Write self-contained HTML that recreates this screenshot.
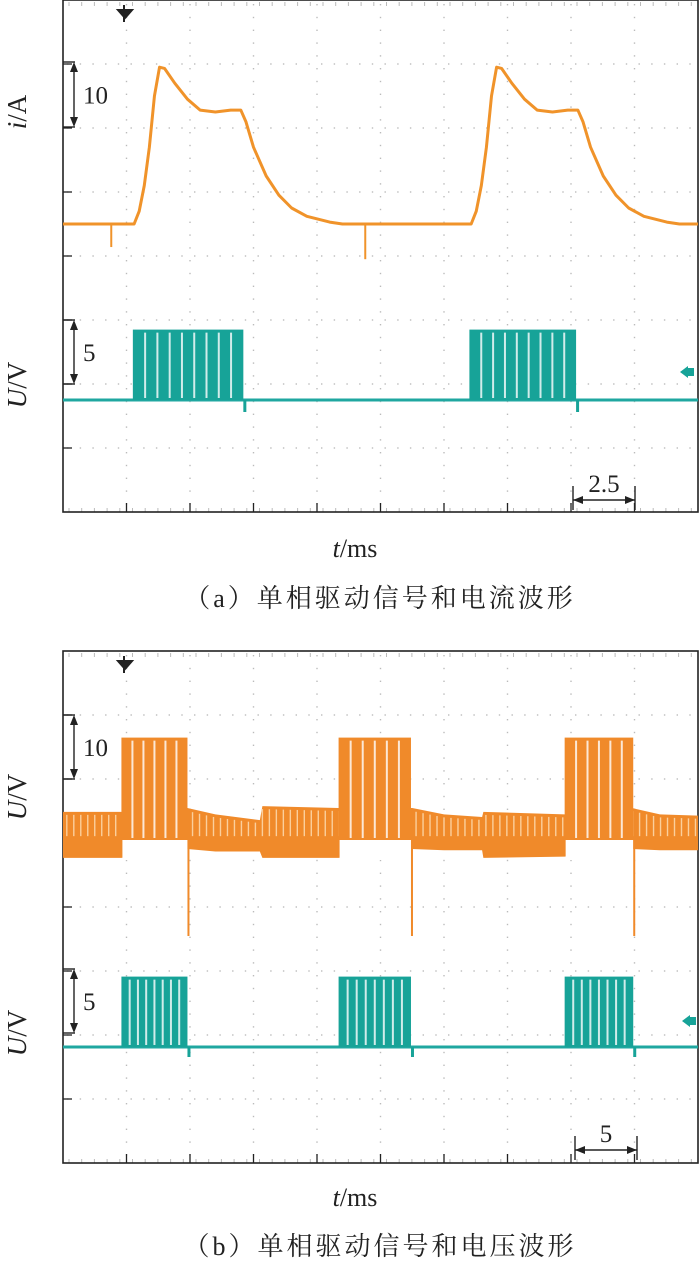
<!DOCTYPE html>
<html><head><meta charset="utf-8"><style>
body{margin:0;background:#fff}
svg{display:block}
text{font-family:"Liberation Serif","Noto Serif CJK SC",serif;fill:#222}
</style></head><body>
<svg id="c" width="700" height="1269" viewBox="0 0 700 1269" xmlns="http://www.w3.org/2000/svg"></svg>
<script>
// ---- data (a) current, ms / A ----
const curT=[0,2.8,3.0,3.2,3.4,3.6,3.8,4.0,4.4,4.9,5.4,6.0,6.6,7.0,7.2,7.5,8.0,8.5,9.0,9.6,10.5,11];
const curI=[0,0,2,6,12,20,24.5,24.3,22,19.5,17.8,17.5,17.8,17.8,16,12,7.5,4.5,2.5,1.2,0.3,0];
const curPeriod=13.27;
const curSpikeT=[1.9,11.9];
const curSpikeI=[-3.6,-5.5];
// (a) drive pulses, ms
const aPulseStart=[2.75,16.0];
const aPulseEnd=[7.1,20.2];
const aPulseV=5.5;
// (b) voltage pulses, ms (5 ms/div)
const bPulseStart=[4.6,21.7,39.5];
const bPulseEnd=[9.8,27.4,44.9];
const bOrangeHigh=16;
// (b) noise band envelope (ms, V)
const bandT=  [0,  4.6, 9.8, 12, 15.5,15.7,21.7,27.5,30, 33, 33.1,39.5,44.8,47, 50];
const bandTop=[4.4,4.4, 5.0, 4.0,3.1, 5.3, 5.0, 5.0, 4.0,3.6,4.4, 4.0, 5.0, 4.0,3.8];
const bandBot=[-2.8,-2.8,-1.4,-1.8,-1.8,-2.8,-2.8,-1.4,-1.6,-1.6,-2.8,-2.6,-1.4,-1.6,-1.6];
const bSpikeV=[-15,-15,-15];
const bCyanV=5.5;

const S=document.getElementById('c');
const NS='http://www.w3.org/2000/svg';
function el(t,a,p){const e=document.createElementNS(NS,t);for(const k in a)e.setAttribute(k,a[k]);(p||S).appendChild(e);return e;}
const X0=63,X1=698,DIV=63.5;

function frame(top,name){
  const g=el('g',{});
  
  
  for(let i=1;i<10;i++){for(let y=top+4;y<top+510;y+=12.8)el('rect',{x:X0+i*DIV-0.7,y:y,width:1.4,height:1.4,fill:'#bbb'},g);}
  for(let j=1;j<8;j++){for(let x=X0+4;x<X1;x+=12.7)el('rect',{x:x,y:top+j*64-0.7,width:1.4,height:1.4,fill:'#bbb'},g);}
  for(let x=X0+6;x<X1;x+=12.7){el('line',{x1:x,y1:top+2,x2:x,y2:top+6,stroke:'#bbb'},g);el('line',{x1:x,y1:top+508,x2:x,y2:top+512,stroke:'#bbb'},g);}
  for(let j=1;j<8;j++)el('line',{x1:X0,y1:top+j*64,x2:X0+9,y2:top+j*64,stroke:'#222','stroke-width':1.3},g);
  for(let i=1;i<10;i++)el('line',{x1:X0+i*DIV,y1:top+512,x2:X0+i*DIV,y2:top+503,stroke:'#222','stroke-width':1.3},g);
  el('rect',{x:X0,y:top,width:X1-X0,height:512,fill:'none',stroke:'#222','stroke-width':1.6},g);
  el('path',{d:`M${X0+55},${top+10} h14 l-7,8z M${X0+61},${top+5} v17`,fill:'#222',stroke:'#222','stroke-width':2},g);
  return g;
}
function scaleArrow(y1,y2,label,name){
  const g=el('g',{});
  el('line',{x1:X0,y1:y1,x2:X0+12,y2:y1,stroke:'#222','stroke-width':1.4},g);
  el('line',{x1:X0,y1:y2,x2:X0+12,y2:y2,stroke:'#222','stroke-width':1.4},g);
  el('line',{x1:X0+11,y1:y1+8,x2:X0+11,y2:y2-8,stroke:'#222','stroke-width':1.4},g);
  el('path',{d:`M${X0+11},${y1} l-4,10 h8z M${X0+11},${y2} l-4,-10 h8z`,fill:'#222'},g);
  const t=el('text',{x:X0+20,y:(y1+y2)/2+9,'font-size':25},g);t.textContent=label;
}
function timeArrow(x1,x2,y,label,name){
  const g=el('g',{});
  el('line',{x1:x1,y1:y,x2:x2,y2:y,stroke:'#222','stroke-width':1.4},g);
  el('line',{x1:x1,y1:y-14,x2:x1,y2:y+10,stroke:'#222','stroke-width':1.4},g);
  el('line',{x1:x2,y1:y-14,x2:x2,y2:y+10,stroke:'#222','stroke-width':1.4},g);
  el('path',{d:`M${x1},${y} l10,-4 v8z M${x2},${y} l-10,-4 v8z`,fill:'#222'},g);
  const t=el('text',{x:(x1+x2)/2,y:y-8,'font-size':25,'text-anchor':'middle'},g);t.textContent=label;
}
function ylab(x,y,html,name){const t=el('text',{x:x,y:y,'font-size':27,'text-anchor':'middle',transform:`rotate(-90 ${x} ${y})`});t.innerHTML=html;}
function txt(x,y,s,size,name,ls){const t=el('text',{x:x,y:y,'font-size':size,'text-anchor':'middle','letter-spacing':ls||0});t.innerHTML=s;}
function pulses(xs,xe,y0,yTop,color,gaps,name){
  const g=el('g',{});
  for(let k=0;k<xs.length;k++){
    const a=xs[k],b=xe[k];
    const r=el('rect',{x:a,y:yTop,width:b-a,height:y0-yTop,fill:color},g);
    
    for(let j=1;j<gaps;j++){const gx=a+(b-a)*j/gaps;el('line',{x1:gx,y1:yTop+3,x2:gx,y2:y0-2,stroke:'#fff','stroke-width':2,opacity:0.8},g);}
  }
  return g;
}

// ===== Panel (a) =====
frame(0,'panel-a-frame');
const aMsPx=DIV/2.5, aAPx=64/10, aZeroI=224, aVPx=64/5, aZeroV=400;
const xa=t=>X0+t*aMsPx, yi=v=>aZeroI-v*aAPx, yv=v=>aZeroV-v*aVPx;
let d=`M${X0},${yi(0)}`;
for(let p=0;p<2;p++)for(let k=0;k<curT.length;k++)d+=` L${xa(curT[k]+p*curPeriod)},${yi(curI[k])}`;
d+=` L${X1},${yi(0)}`;
const cp=el('path',{d:d,fill:'none',stroke:'#f0932a','stroke-width':3,'stroke-linejoin':'round'});

for(let k=0;k<curSpikeT.length;k++){const s=el('line',{x1:xa(curSpikeT[k]),y1:yi(0),x2:xa(curSpikeT[k]),y2:yi(curSpikeI[k]),stroke:'#f0932a','stroke-width':2});}
const ab=el('line',{x1:X0,y1:yv(0),x2:X1,y2:yv(0),stroke:'#1fa7a0','stroke-width':3});
pulses(aPulseStart.map(xa),aPulseEnd.map(xa),yv(0),yv(aPulseV),'#17a398',9,'drive-pulses-a');
for(let k=0;k<aPulseEnd.length;k++)el('path',{d:`M${xa(aPulseEnd[k])},${yv(0)} v12 h3 v-12z`,fill:'#17a398'});
el('path',{d:`M680,372 l8,-6 v12z M686,368 h8 v8 h-8z`,fill:'#17a398'});
scaleArrow(62,127,'10','current-scale-10');
scaleArrow(320,384,'5','voltage-scale-5-a');
timeArrow(573,635,500,'2.5','time-scale-2-5');
ylab(26,112,'<tspan font-style="italic">i</tspan>/A','y-axis-title-current');
ylab(26,385,'<tspan font-style="italic">U</tspan>/V','y-axis-title-voltage-a');
txt(355,557,'<tspan font-style="italic">t</tspan>/ms',26,'x-axis-title-a');
txt(380,607,'（a）单相驱动信号和电流波形',26,'caption-a',3);

// ===== Panel (b) =====
const TB=651;
frame(TB,'panel-b-frame');
const bMsPx=DIV/5, bVPxO=64/10, bZeroO=840, bVPxC=64/5, bZeroC=1047;
const xb=t=>X0+t*bMsPx, yo=v=>bZeroO-v*bVPxO, yc=v=>bZeroC-v*bVPxC;
const nb=el('g',{});
let bp='';
for(let k=0;k<bandT.length;k++)bp+=(k?' L':'M')+xb(bandT[k])+','+yo(bandTop[k]);
for(let k=bandT.length-1;k>=0;k--)bp+=' L'+xb(bandT[k])+','+yo(bandBot[k]);
el('path',{d:bp+'Z',fill:'#f08a2a'},nb);
for(let t=0.3;t<50;t+=0.55){
  let k=0;while(k<bandT.length-2&&bandT[k+1]<t)k++;
  const f=(t-bandT[k])/(bandT[k+1]-bandT[k]);
  const tp=bandTop[k]+f*(bandTop[k+1]-bandTop[k]);
  el('line',{x1:xb(t),y1:yo(tp)+3,x2:xb(t),y2:yo(0.6),stroke:'#fbcf9c','stroke-width':1.4},nb);
}
// blank below zero under pulses
for(let k=0;k<bPulseStart.length;k++)el('rect',{x:xb(bPulseStart[k])+1,y:yo(0),width:xb(bPulseEnd[k])-xb(bPulseStart[k])-1,height:20,fill:'#fff'});
pulses(bPulseStart.map(xb),bPulseEnd.map(xb),yo(0),yo(bOrangeHigh),'#f08a2a',6,'phase-voltage-pulses');
for(let k=0;k<bPulseEnd.length;k++){const s=el('line',{x1:xb(bPulseEnd[k])+1,y1:yo(0),x2:xb(bPulseEnd[k])+1,y2:yo(bSpikeV[k]),stroke:'#f08a2a','stroke-width':2});}
const bb=el('line',{x1:X0,y1:yc(0),x2:X1,y2:yc(0),stroke:'#1fa7a0','stroke-width':3});
pulses(bPulseStart.map(xb),bPulseEnd.map(xb),yc(0),yc(bCyanV),'#17a398',8,'drive-pulses-b');
for(let k=0;k<bPulseEnd.length;k++)el('path',{d:`M${xb(bPulseEnd[k])},${yc(0)} v10 h3 v-10z`,fill:'#17a398'});
el('path',{d:`M682,1021 l8,-6 v12z M688,1017 h8 v8 h-8z`,fill:'#17a398'});
scaleArrow(715,779,'10','voltage-scale-10');
scaleArrow(969,1033,'5','voltage-scale-5-b');
timeArrow(575,637,1150,'5','time-scale-5');
ylab(26,797,'<tspan font-style="italic">U</tspan>/V','y-axis-title-voltage-b1');
ylab(26,1033,'<tspan font-style="italic">U</tspan>/V','y-axis-title-voltage-b2');
txt(355,1206,'<tspan font-style="italic">t</tspan>/ms',26,'x-axis-title-b');
txt(380,1255,'（b）单相驱动信号和电压波形',26,'caption-b',3);
</script>
</body></html>
